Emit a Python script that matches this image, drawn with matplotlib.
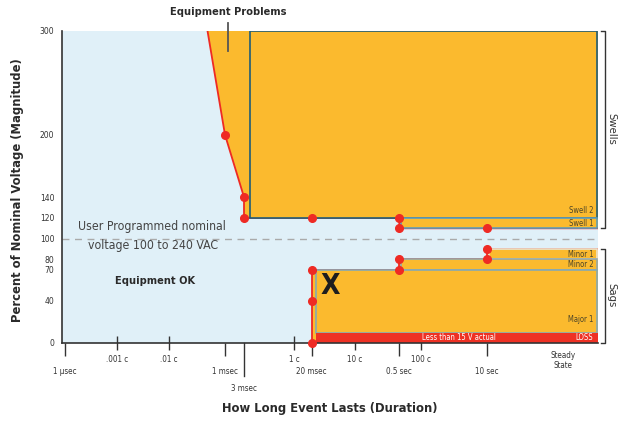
import numpy as np
import matplotlib
matplotlib.use("Agg")
import matplotlib.pyplot as plt
from matplotlib import font_manager
from matplotlib.patches import Polygon, Rectangle

names = {f.name for f in font_manager.fontManager.ttflist}
condensed = [f for f in font_manager.fontManager.ttflist
             if f.name == "DejaVu Sans" and "Condensed" in f.fname]
if "Liberation Sans Narrow" in names:
    plt.rcParams["font.family"] = ["Liberation Sans Narrow", "DejaVu Sans"]
    k = 1.0
elif condensed:
    plt.rcParams["font.family"] = ["DejaVu Sans"]
    plt.rcParams["font.stretch"] = "condensed"
    k = 0.88
else:
    plt.rcParams["font.family"] = ["DejaVu Sans"]
    k = 0.8

# --- schematic time axis (log10 seconds -> position along the axis) ---
axis_logs = [-6.08, -6.0, np.log10(0.001 / 60), np.log10(0.01 / 60), -3.0, np.log10(0.003),
             np.log10(1 / 60), np.log10(0.02), np.log10(10 / 60), np.log10(0.5),
             np.log10(100 / 60), 1.0, 3.0, 3.5]
axis_pos = [62, 64.7, 117.3, 169.3, 225, 244, 294, 311.7, 355, 399.3, 420.7, 487, 563, 598]
T_START = 10 ** -6.08
T_END = 10 ** 3.5
T_STEADY = 1000.0

# --- data ---
# upper (swell) limit curve: time (s), percent
swell_t = [0.00057, 0.001, 0.003, 0.003, 0.5, 0.5, T_END]
swell_v = [300, 200, 140, 120, 120, 110, 110]
swell_pts_t = [0.001, 0.003, 0.003, 0.02, 0.5, 0.5, 10]
swell_pts_v = [200, 140, 120, 120, 120, 110, 110]

# lower (sag) limit curve
sag_t = [0.02, 0.02, 0.5, 0.5, 10, 10, T_END]
sag_v = [0, 70, 70, 80, 80, 90, 90]
sag_pts_t = [0.02, 0.02, 0.02, 0.5, 0.5, 10, 10]
sag_pts_v = [0, 40, 70, 70, 80, 80, 90]

# event boxes: name, start (s), low %, high %, edge colour
boxes = [
    ("Swell 2", 0.0037, 120, 300, "#1f5d78"),
    ("Swell 1", 0.55, 110, 120, "#5e9cb8"),
    ("Minor 1", 11, 80, 90, "#e9e4cf"),
    ("Minor 2", 0.55, 70, 80, "#93a9ac"),
    ("Major 1", 0.025, 9, 70, "#86a9b3"),
]
label_v = {"Swell 2": 127.5, "Swell 1": 115, "Minor 1": 85, "Minor 2": 75, "Major 1": 22.5}
loss_t, loss_lo, loss_hi = 0.025, 0, 9

time_ticks = [1e-6, 1e-3, 0.02, 0.5, 10]
time_labels = ["1 µsec", "1 msec", "20 msec", "0.5 sec", "10 sec"]
cycles = [0.001, 0.01, 1, 10, 100]
cycle_labels = [".001 c", ".01 c", "1 c", "10 c", "100 c"]
y_ticks = [0, 40, 70, 80, 100, 120, 140, 200, 300]

ORANGE = "#fbba2e"
BLUE_BG = "#e0f0f8"
RED = "#ee2a24"
DARK = "#333333"


def fwd(t):
    t = np.asarray(t, dtype=float)
    lg = np.log10(np.where(t > 0, t, 1e-12))
    return np.interp(lg, axis_logs, axis_pos)


def inv(p):
    return 10 ** np.interp(p, axis_pos, axis_logs)


fig = plt.figure(figsize=(6.18, 4.25), dpi=100)
ax = fig.add_axes([62 / 618, 1 - 342.5 / 425, 536 / 618, 311.5 / 425])
ax.set_xscale("function", functions=(fwd, inv))
ax.set_xlim(T_START, T_END)
ax.set_ylim(0, 300)
ax.set_facecolor(BLUE_BG)

# orange problem areas
up = list(zip(swell_t, swell_v)) + [(T_END, 300)]
ax.add_patch(Polygon(up, closed=True, facecolor=ORANGE, edgecolor="none", zorder=1))
lo = list(zip(sag_t, sag_v)) + [(T_END, 0)]
ax.add_patch(Polygon(lo, closed=True, facecolor=ORANGE, edgecolor="none", zorder=1))

# nominal line
ax.axhline(100, color="#aaaaaa", lw=1, ls=(0, (5, 4)), zorder=2)

# limit curves
ax.plot(swell_t, swell_v, color=RED, lw=1.3, zorder=3)
ax.plot(sag_t, sag_v, color=RED, lw=1.3, zorder=3)

# event boxes
box_end = 10 ** 3.48
for name, t0, v0, v1, ec in boxes:
    ax.add_patch(Rectangle((t0, v0), box_end - t0, v1 - v0, facecolor=ORANGE,
                           edgecolor=ec, lw=1.2, zorder=4))
    ax.text(0.991, label_v[name], name, transform=ax.get_yaxis_transform(),
            ha="right", va="center", fontsize=6.3 * k, color="#4d4528", zorder=6)

ax.add_patch(Rectangle((loss_t, loss_lo), T_END - loss_t, loss_hi - loss_lo,
                       facecolor="#ee3124", edgecolor="none", zorder=4))
ax.text(0.991, (loss_lo + loss_hi) / 2, "LOSS", transform=ax.get_yaxis_transform(),
        ha="right", va="center", fontsize=6.3 * k, color="white", zorder=6)
ax.text(0.741, (loss_lo + loss_hi) / 2, "Less than 15 V actual",
        transform=ax.get_yaxis_transform(), ha="center", va="center",
        fontsize=6.3 * k, color="white", zorder=6)

# limit points
ax.plot(swell_pts_t, swell_pts_v, "o", color=RED, ms=5.5, zorder=7, clip_on=False)
ax.plot(sag_pts_t, sag_pts_v, "o", color=RED, ms=5.5, zorder=7, clip_on=False)

# annotations
ax.text(0.168, 111.5, "User Programmed nominal", transform=ax.get_yaxis_transform(),
        ha="center", va="center", fontsize=10 * k, color="#444444")
ax.text(0.170, 93.3, "voltage 100 to 240 VAC", transform=ax.get_yaxis_transform(),
        ha="center", va="center", fontsize=10 * k, color="#444444")
ax.text(0.1744, 0.197, "Equipment OK", transform=ax.transAxes, ha="center",
        va="center", fontsize=9.0 * k, fontweight="bold", color="#2a2a2a")
ax.text(0.05, 54, "X", ha="center", va="center", fontsize=23 * k,
        fontweight="bold", color="#1e1e1e", zorder=6)
ax.text(0.0012, 318, "Equipment Problems", ha="center", va="center",
        fontsize=9.0 * k, fontweight="bold", color="#2a2a2a", clip_on=False)
ax.plot([0.0012, 0.0012], [308, 281], color="#555555", lw=1.3, zorder=5, clip_on=False)

# right-hand brackets
yt = ax.get_yaxis_transform()
ax.plot([1.005, 1.013, 1.013, 1.005], [300, 300, 110, 110], color=DARK, lw=1,
        transform=yt, clip_on=False)
ax.plot([1.005, 1.013, 1.013, 1.005], [90, 90, 0, 0], color=DARK, lw=1,
        transform=yt, clip_on=False)
ax.text(1.0245, 206, "Swells", transform=yt, rotation=-90, ha="center", va="center",
        fontsize=9.2 * k, color=DARK, clip_on=False)
ax.text(1.0245, 46, "Sags", transform=yt, rotation=-90, ha="center", va="center",
        fontsize=9.2 * k, color=DARK, clip_on=False)

# axes and ticks
for s in ["top", "right"]:
    ax.spines[s].set_visible(False)
for s in ["left", "bottom"]:
    ax.spines[s].set_color(DARK)
    ax.spines[s].set_linewidth(1.2)
    ax.spines[s].set_zorder(5)

ax.set_xticks(time_ticks, time_labels)
ax.set_xticks(np.array(cycles) / 60, cycle_labels, minor=True)
ax.tick_params(axis="x", which="major", direction="out", length=9.5, width=1,
               pad=8, labelsize=6.5 * k, color=DARK, labelcolor=DARK)
ax.tick_params(axis="x", which="minor", direction="inout", length=10, width=1,
               pad=4, labelsize=6.5 * k, color=DARK, labelcolor=DARK)
ax.set_yticks(y_ticks)
ax.tick_params(axis="y", length=0, pad=5.5, labelsize=7 * k, labelcolor=DARK)

xt = ax.get_xaxis_transform()
ax.plot([0.003, 0.003], [0, -0.109], color=DARK, lw=1, transform=xt, clip_on=False)
ax.text(0.003, -0.149, "3 msec", transform=xt, ha="center", va="center",
        fontsize=6.5 * k, color=DARK)
ax.text(T_STEADY, -0.058, "Steady\nState", transform=xt, ha="center", va="center",
        fontsize=6.5 * k, color=DARK, linespacing=1.25)

ax.set_xlabel("How Long Event Lasts (Duration)", fontsize=10.5 * k, fontweight="bold",
              color="#2a2a2a")
ax.xaxis.set_label_coords(0.5, -0.19)
ax.set_ylabel("Percent of Nominal Voltage (Magnitude)", fontsize=10.5 * k,
              fontweight="bold", color="#2a2a2a")
ax.yaxis.set_label_coords(-0.071, 0.49)

fig.savefig("out.png", dpi=100)
